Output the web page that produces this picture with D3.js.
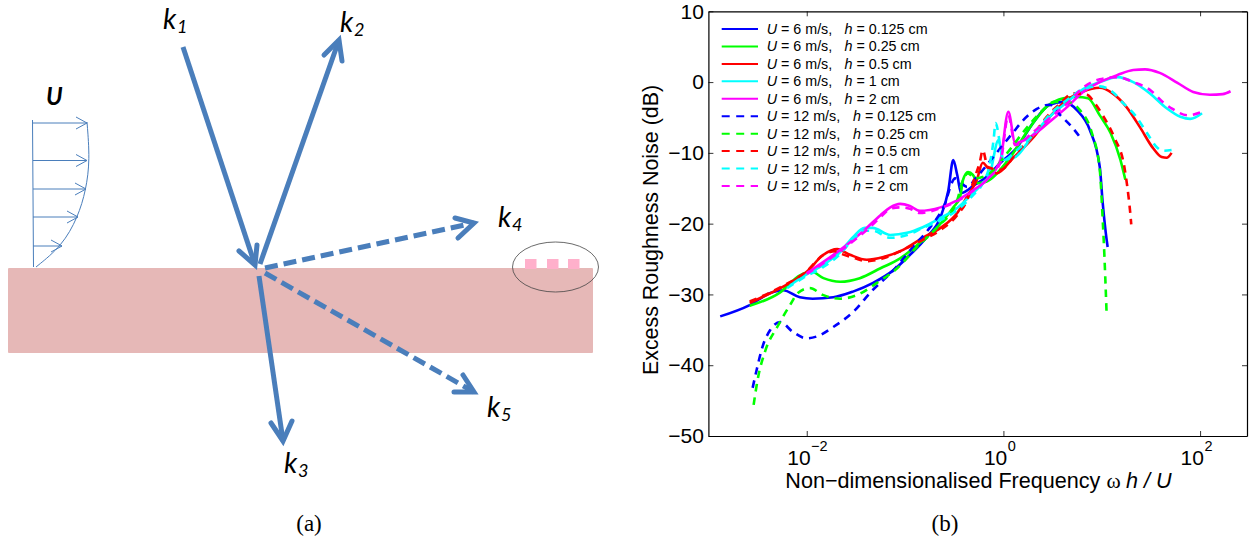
<!DOCTYPE html>
<html>
<head>
<meta charset="utf-8">
<script src="https://d3js.org/d3.v7.min.js"></script>
<style>
  html, body { margin: 0; padding: 0; background: #fff; }
  svg { display: block; }
  text { font-family: "Liberation Sans", sans-serif; fill: #000; }
</style>
</head>
<body>
<div id="chart"></div>
<script>
// every curve point is [log10(omega h / U), excess noise in dB]
const u6h0125 = [[-2.88,-33.1],[-2.58,-31.5],[-2.37,-29.8],[-2.24,-29.4],[-2.07,-30.4],[-1.94,-30.6],[-1.73,-30.4],[-1.53,-29.6],[-1.33,-28.4],[-1.12,-26.6],[-0.95,-24.4],[-0.78,-21.9],[-0.64,-19.1],[-0.56,-15.3],[-0.51,-11.0],[-0.47,-13.1],[-0.43,-15.7],[-0.29,-14.5],[-0.19,-13.6],[-0.03,-11.4],[0.14,-9.2],[0.30,-5.8],[0.47,-3.2],[0.61,-2.8],[0.75,-4.0],[0.88,-6.8],[0.98,-12.0],[1.01,-17.1],[1.05,-22.3],[1.06,-23.3]];
const u6h025 = [[-2.58,-31.6],[-2.27,-29.7],[-2.07,-27.3],[-1.95,-26.8],[-1.83,-27.7],[-1.66,-28.2],[-1.46,-27.7],[-1.25,-26.3],[-1.05,-24.9],[-0.85,-22.7],[-0.67,-20.5],[-0.51,-17.7],[-0.44,-16.2],[-0.41,-13.8],[-0.36,-12.7],[-0.31,-13.1],[-0.26,-14.3],[-0.14,-13.8],[0.07,-10.6],[0.27,-6.4],[0.44,-3.5],[0.61,-2.3],[0.75,-2.1],[0.86,-2.3],[0.98,-4.7],[1.09,-7.2],[1.19,-11.0],[1.24,-13.8]];
const u6h05 = [[-2.58,-31.2],[-2.27,-29.1],[-2.00,-26.8],[-1.83,-24.4],[-1.69,-23.6],[-1.56,-24.4],[-1.39,-25.1],[-1.22,-24.7],[-1.02,-23.7],[-0.82,-22.0],[-0.64,-20.6],[-0.47,-18.5],[-0.37,-16.2],[-0.27,-13.8],[-0.21,-11.4],[-0.16,-12.1],[-0.07,-12.9],[0.10,-10.7],[0.30,-7.9],[0.47,-4.9],[0.65,-2.5],[0.80,-1.4],[0.98,-0.8],[1.11,-1.6],[1.25,-3.5],[1.39,-6.4],[1.52,-9.3],[1.61,-10.6],[1.66,-10.7],[1.71,-10.0]];
const u6h1 = [[-2.17,-28.7],[-2.04,-27.5],[-1.83,-25.8],[-1.66,-24.0],[-1.53,-21.9],[-1.41,-20.6],[-1.33,-20.6],[-1.15,-21.6],[-0.98,-21.3],[-0.82,-20.5],[-0.64,-19.2],[-0.47,-17.8],[-0.31,-15.7],[-0.21,-14.3],[-0.14,-13.1],[-0.05,-8.2],[0.00,-11.0],[0.12,-10.6],[0.30,-7.5],[0.47,-4.9],[0.65,-2.8],[0.81,-1.0],[0.98,0],[1.16,0.7],[1.32,0],[1.49,-1.6],[1.66,-3.7],[1.80,-4.9],[1.90,-5.2],[2.02,-4.4]];
const u6h2 = [[-2.00,-27.0],[-1.83,-25.4],[-1.66,-23.7],[-1.53,-22.3],[-1.39,-20.6],[-1.25,-18.8],[-1.15,-17.7],[-1.05,-17.2],[-0.95,-17.5],[-0.85,-18.2],[-0.64,-17.7],[-0.47,-16.7],[-0.32,-15.4],[-0.17,-13.8],[-0.03,-11.0],[0.05,-4.2],[0.12,-8.6],[0.30,-7.5],[0.47,-5.6],[0.65,-3.5],[0.81,-1.4],[0.98,0],[1.16,1.0],[1.32,1.7],[1.44,1.8],[1.59,1.3],[1.77,-0.1],[1.93,-1.4],[2.10,-1.8],[2.23,-1.7],[2.31,-1.3]];
const u12h0125 = [[-2.55,-43.2],[-2.51,-40.7],[-2.45,-37.4],[-2.37,-35.0],[-2.27,-33.9],[-2.14,-35.3],[-2.00,-36.2],[-1.89,-35.9],[-1.73,-34.6],[-1.53,-32.5],[-1.33,-29.4],[-1.12,-26.6],[-0.92,-23.3],[-0.75,-20.6],[-0.61,-17.7],[-0.49,-13.6],[-0.37,-14.8],[-0.27,-13.4],[-0.07,-10.0],[0.10,-7.1],[0.20,-5.4],[0.34,-3.8],[0.47,-3.2],[0.58,-4.7],[0.70,-6.4],[0.80,-8.2]];
const u12h025 = [[-2.54,-45.6],[-2.50,-42.1],[-2.42,-37.9],[-2.30,-34.6],[-2.17,-31.5],[-2.09,-29.8],[-1.97,-29.1],[-1.83,-30.1],[-1.66,-30.6],[-1.49,-30.1],[-1.29,-28.4],[-1.08,-26.3],[-0.88,-23.3],[-0.67,-20.5],[-0.47,-16.7],[-0.41,-13.8],[-0.36,-12.9],[-0.29,-13.6],[-0.14,-12.9],[0.04,-10.0],[0.20,-7.1],[0.37,-4.4],[0.52,-2.8],[0.65,-2.8],[0.78,-4.0],[0.90,-7.2],[0.98,-12.4],[1.01,-19.5],[1.02,-22.3],[1.05,-32.9]];
const u12h05 = [[-2.58,-31.0],[-2.27,-29.0],[-2.00,-26.7],[-1.83,-24.4],[-1.71,-23.9],[-1.64,-24.3],[-1.51,-24.9],[-1.39,-25.3],[-1.22,-24.9],[-1.02,-23.7],[-0.82,-22.3],[-0.64,-20.9],[-0.47,-18.8],[-0.37,-16.7],[-0.29,-13.4],[-0.24,-11.3],[-0.21,-9.6],[-0.16,-12.0],[-0.03,-12.4],[0.14,-9.9],[0.30,-7.5],[0.44,-4.9],[0.58,-3.0],[0.71,-1.6],[0.85,-1.8],[0.93,-3.0],[1.01,-4.7],[1.13,-7.9],[1.23,-12.0],[1.26,-14.8],[1.29,-18.5],[1.30,-20.1]];
const u12h1 = [[-2.20,-29.1],[-2.04,-27.7],[-1.83,-26.1],[-1.66,-24.3],[-1.53,-22.2],[-1.41,-21.0],[-1.33,-21.0],[-1.15,-22.0],[-0.98,-21.6],[-0.82,-20.6],[-0.64,-19.5],[-0.47,-18.1],[-0.31,-16.0],[-0.21,-14.3],[-0.14,-11.7],[-0.10,-8.2],[-0.08,-5.8],[0.00,-11.0],[0.14,-9.6],[0.30,-7.5],[0.47,-4.6],[0.65,-2.5],[0.81,-1.0],[0.98,-0.6],[1.11,-1.4],[1.22,-3.0],[1.34,-4.7],[1.46,-7.2],[1.56,-9.2],[1.62,-9.7],[1.71,-9.6]];
const u12h2 = [[-2.00,-27.1],[-1.83,-25.6],[-1.66,-23.9],[-1.53,-22.5],[-1.39,-20.9],[-1.25,-19.1],[-1.15,-17.9],[-1.05,-17.7],[-0.95,-17.9],[-0.85,-18.5],[-0.64,-17.8],[-0.47,-16.8],[-0.32,-15.5],[-0.17,-13.8],[-0.03,-11.3],[0.05,-4.7],[0.12,-8.9],[0.30,-7.1],[0.47,-5.1],[0.65,-3.0],[0.81,-0.8],[0.98,0.4],[1.16,0.7],[1.32,0],[1.49,-1.1],[1.62,-2.8],[1.72,-3.8],[1.88,-4.7],[2.02,-4.2]];

const speeds = [6, 6, 6, 6, 6, 12, 12, 12, 12, 12];
const heights = ["0.125", "0.25", "0.5", "1", "2", "0.125", "0.25", "0.5", "1", "2"];
const colors = ["#0000ff", "#00ff00", "#ff0000", "#00ffff", "#ff00ff", "#0000ff", "#00ff00", "#ff0000", "#00ffff", "#ff00ff"];
const curves = [u6h0125, u6h025, u6h05, u6h1, u6h2, u12h0125, u12h025, u12h05, u12h1, u12h2];

const xTicks = [0.01, 1, 100];
const xExponents = ["\u22122", "0", "2"];
const yTicks = [10, 0, -10, -20, -30, -40, -50];

// left sketch, in page pixels
const waveArrows = [
  { name: "1", dashed: false, tail: [183, 47], tip: [255, 265], barbs: [[239, 251], [257, 245]], label: [163, 29], sub: [177, 33] },
  { name: "2", dashed: false, tail: [260, 264], tip: [339, 40], barbs: [[324, 55], [342, 61]], label: [340, 32], sub: [354, 36] },
  { name: "3", dashed: false, tail: [259, 276], tip: [283, 441], barbs: [[271, 423], [292, 421]], label: [284, 473], sub: [298, 477] },
  { name: "4", dashed: true, tail: [265, 268], tip: [474, 223], barbs: [[455, 218], [458, 238]], label: [498, 227], sub: [512, 231] },
  { name: "5", dashed: true, tail: [265, 273], tip: [474, 392], barbs: [[463, 375], [454, 392]], label: [487, 417], sub: [501, 421] }
];
const profileTips = [[87, 123], [87, 160.5], [86, 189], [78, 217], [62, 246]];
const profileCurve = [[87, 122], [90, 160], [86, 190], [78, 217], [62, 246], [36, 267]];
const roughness = [525, 547, 568];

const svg = d3.select("#chart").append("svg").attr("width", 1251).attr("height", 540);
const BLUE = "#4a7ebb";

// ----- sketch (a) -----
const sketch = svg.append("g");
sketch.append("rect").attr("x", 8).attr("y", 268).attr("width", 585).attr("height", 85).attr("rx", 1).attr("fill", "#e6b8b7");
sketch.selectAll("rect.rough").data(roughness).enter().append("rect").attr("class", "rough")
  .attr("x", d => d).attr("y", 259).attr("width", 11.5).attr("height", 10).attr("fill", "#ffb0cb");
sketch.append("ellipse").attr("cx", 555.5).attr("cy", 267).attr("rx", 43).attr("ry", 25)
  .attr("fill", "none").attr("stroke", "#444").attr("stroke-width", 0.8);

sketch.append("line").attr("x1", 32.5).attr("x2", 33.5).attr("y1", 120).attr("y2", 267).attr("stroke", BLUE).attr("stroke-width", 1);
sketch.append("path").attr("d", d3.line().curve(d3.curveBasis)(profileCurve)).attr("fill", "none").attr("stroke", BLUE).attr("stroke-width", 1);
profileTips.forEach(t => {
  sketch.append("line").attr("x1", 33).attr("x2", t[0]).attr("y1", t[1]).attr("y2", t[1]).attr("stroke", BLUE).attr("stroke-width", 1);
  sketch.append("polyline").attr("points", [[t[0] - 11, t[1] - 6], t, [t[0] - 11, t[1] + 6]].join(" "))
    .attr("fill", "none").attr("stroke", BLUE).attr("stroke-width", 1);
});
sketch.append("text").attr("x", 46).attr("y", 105).attr("font-size", 24).attr("font-weight", "bold").attr("font-style", "italic")
  .style("font-family", "Lato").text("U");

waveArrows.forEach(a => {
  sketch.append("line").attr("x1", a.tail[0]).attr("y1", a.tail[1]).attr("x2", a.tip[0]).attr("y2", a.tip[1])
    .attr("stroke", BLUE).attr("stroke-width", 5).attr("stroke-dasharray", a.dashed ? "13,6" : null);
  sketch.append("polyline").attr("points", [a.barbs[0], a.tip, a.barbs[1]].join(" "))
    .attr("fill", "none").attr("stroke", BLUE).attr("stroke-width", 5).attr("stroke-linecap", "round").attr("stroke-linejoin", "miter");
  sketch.append("text").attr("x", a.label[0]).attr("y", a.label[1]).attr("font-size", 28).attr("font-style", "italic")
    .style("font-family", "Lato").text("k");
  sketch.append("text").attr("x", a.sub[0]).attr("y", a.sub[1]).attr("font-size", 18).attr("font-style", "italic")
    .style("font-family", "Lato").text(a.name);
});

svg.append("text").attr("x", 309).attr("y", 531).attr("text-anchor", "middle").attr("font-size", 23)
  .style("font-family", "Liberation Serif").text("(a)");
svg.append("text").attr("x", 945).attr("y", 531).attr("text-anchor", "middle").attr("font-size", 23)
  .style("font-family", "Liberation Serif").text("(b)");

// ----- plot (b) -----
const x = d3.scaleLog().domain([0.001, 300]).range([708.4, 1247]);
const y = d3.scaleLinear().domain([-50, 10]).range([436, 11.3]);
const plot = svg.append("g");

const line = d3.line().x(d => x(Math.pow(10, d[0]))).y(d => y(d[1])).curve(d3.curveMonotoneX);
curves.forEach((c, i) => {
  plot.append("path").attr("d", line(c)).attr("fill", "none").attr("stroke", colors[i]).attr("stroke-width", 2.6)
    .attr("stroke-linejoin", "round").attr("stroke-dasharray", speeds[i] === 12 ? "7.5,6" : null);
});

const TICK = 5;
function styleAxis(g) {
  g.selectAll("path.domain").attr("stroke", "#000").attr("stroke-width", 1.2);
  g.selectAll(".tick line").attr("stroke", "#000").attr("stroke-width", 0.8);
  g.selectAll("text").attr("fill", "#000").style("font-family", "Liberation Sans").style("font-size", "21px");
}
const yFormat = d => String(d).replace("-", "\u2212");
plot.append("g").attr("transform", `translate(${x.range()[0]},0)`)
  .call(d3.axisLeft(y).tickValues(yTicks).tickFormat(yFormat).tickSizeInner(-TICK).tickSizeOuter(0).tickPadding(4.5)).call(styleAxis);
plot.append("g").attr("transform", `translate(${x.range()[1]},0)`)
  .call(d3.axisRight(y).tickValues(yTicks).tickFormat("").tickSizeInner(-TICK).tickSizeOuter(0)).call(styleAxis);
plot.append("g").attr("transform", `translate(0,${y.range()[1]})`)
  .call(d3.axisTop(x).tickValues(xTicks).tickFormat("").tickSizeInner(-TICK).tickSizeOuter(0)).call(styleAxis);
plot.append("g").attr("transform", `translate(0,${y.range()[0]})`)
  .call(d3.axisBottom(x).tickValues(xTicks).tickFormat("").tickSizeInner(-TICK).tickSizeOuter(0)).call(styleAxis);

xTicks.forEach((t, i) => {
  const lab = plot.append("text").attr("x", x(t) - 19.5).attr("y", 465).attr("font-size", 21).text("10");
  lab.append("tspan").attr("dy", -14).attr("dx", 0.5).attr("font-size", 14.5).text(xExponents[i]);
});

const xLabel = plot.append("text").attr("x", 978.5).attr("y", 488).attr("text-anchor", "middle").attr("font-size", 21.6).attr("xml:space", "preserve");
xLabel.append("tspan").text("Non\u2212dimensionalised Frequency ");
xLabel.append("tspan").style("font-family", "Liberation Serif").text("\u03c9 ");
xLabel.append("tspan").attr("font-style", "italic").text("h / U");

plot.append("text").attr("transform", "translate(658,230) rotate(-90)").attr("text-anchor", "middle").attr("font-size", 21.4)
  .text("Excess Roughness Noise (dB)");

// legend, row spacing as in the original axes
const legendY = d3.scaleLinear().domain([0, 9]).range([29, 186]);
speeds.forEach((u, i) => {
  const ly = legendY(i);
  plot.append("line").attr("x1", 721.7).attr("x2", 758).attr("y1", ly).attr("y2", ly).attr("stroke", colors[i]).attr("stroke-width", 2)
    .attr("stroke-dasharray", u === 12 ? "8,6.5" : null);
  const t = plot.append("text").attr("x", 766.7).attr("y", ly + 5).attr("font-size", 14.3);
  t.append("tspan").attr("font-style", "italic").text("U");
  t.append("tspan").text(` = ${u} m/s,`);
  const t2 = plot.append("text").attr("x", u === 12 ? 853 : 844.5).attr("y", ly + 5).attr("font-size", 14.3);
  t2.append("tspan").attr("font-style", "italic").text("h");
  t2.append("tspan").text(` = ${heights[i]} cm`);
});
</script>
</body>
</html>
